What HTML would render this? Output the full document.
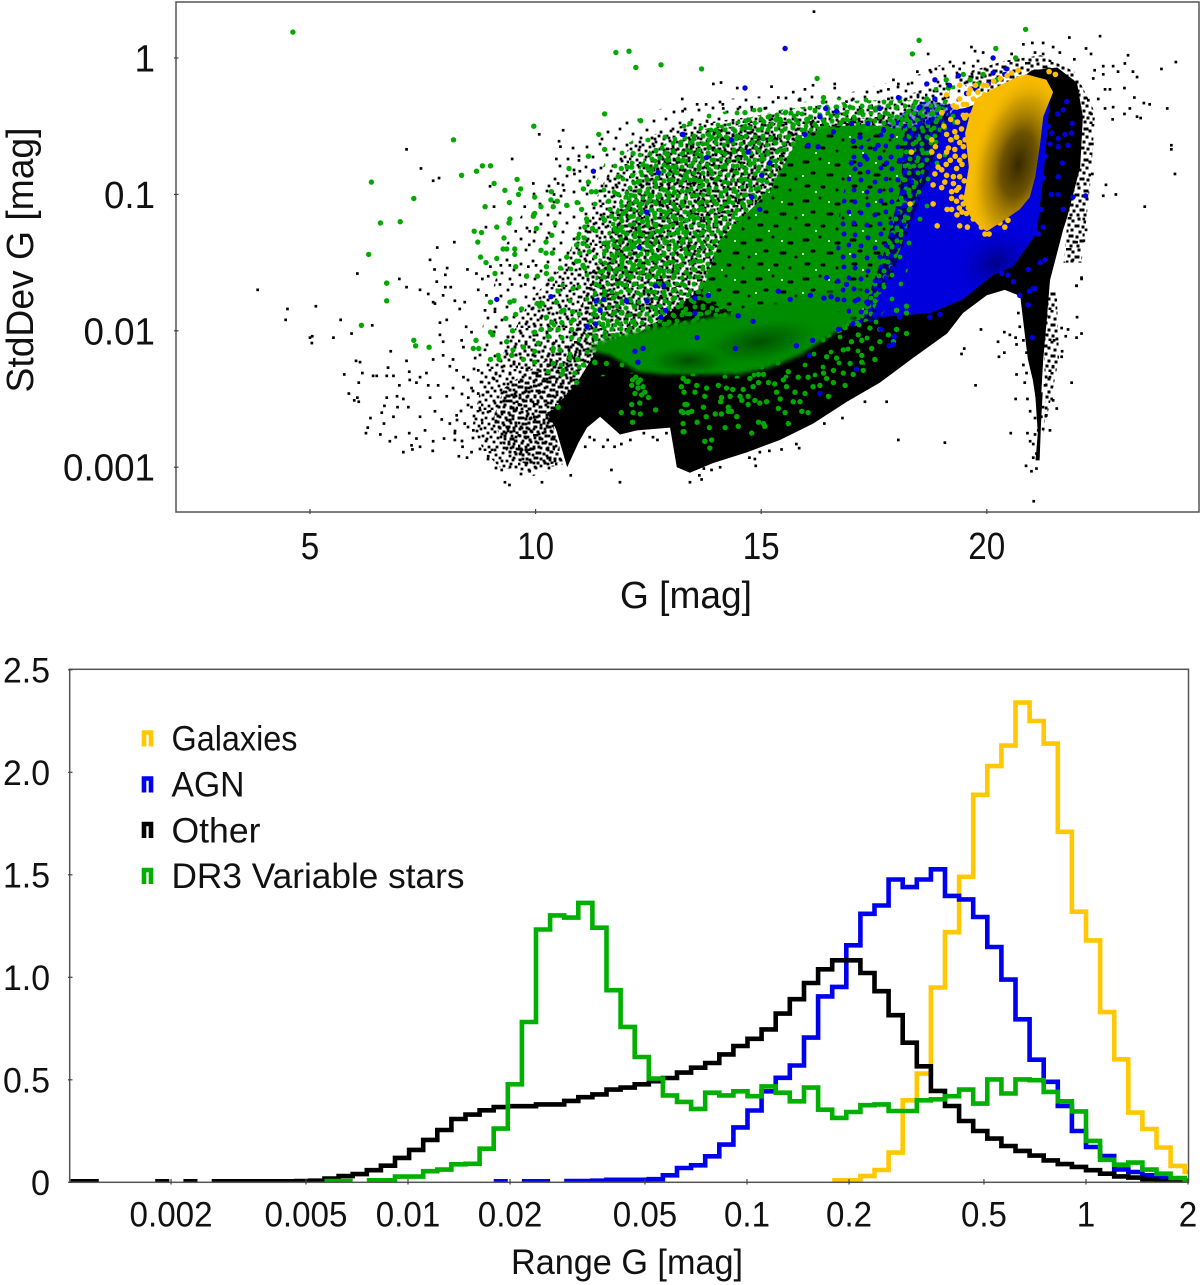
<!DOCTYPE html>
<html lang="en">
<head>
<meta charset="utf-8">
<title>StdDev G vs G and Range G histogram</title>
<style>
html,body{margin:0;padding:0;background:#fff;}
svg{display:block;}
text{font-family:"Liberation Sans","DejaVu Sans",sans-serif;fill:#111;}
</style>
</head>
<body>
<svg id="chart" xmlns="http://www.w3.org/2000/svg" width="1200" height="1285" viewBox="0 0 1200 1285">
  <defs>
    <clipPath id="clip-top"><rect x="176" y="2" width="1023" height="510"/></clipPath>
    <clipPath id="clip-bottom"><rect x="69.7" y="669" width="1119" height="513.5"/></clipPath>
    <pattern id="tile-black-a" width="37" height="41" patternUnits="userSpaceOnUse">
      <path fill="none" stroke="#000" stroke-width="2.8" stroke-linecap="square" d="M2 3h.01M9 1h.01M15 4h.01M22 2h.01M29 5h.01M34 1h.01M5 8h.01M12 9h.01M19 7h.01M26 10h.01M32 9h.01M1 13h.01M8 14h.01M16 12h.01M23 15h.01M30 13h.01M35 16h.01M4 18h.01M11 19h.01M18 17h.01M27 19h.01M33 21h.01M7 23h.01M14 22h.01M21 24h.01M25 23h.01M31 26h.01M2 26h.01M10 27h.01M17 28h.01M24 29h.01M35 27h.01M5 31h.01M13 32h.01M20 33h.01M28 32h.01M33 34h.01M1 36h.01M8 37h.01M16 37h.01M23 38h.01M30 38h.01M36 39h.01M11 40h.01M4 40h.01"/>
    </pattern>
    <pattern id="tile-black-b" width="41" height="31" patternUnits="userSpaceOnUse">
      <path fill="none" stroke="#000" stroke-width="3" stroke-linecap="square" d="M1 1h3M7 4h.01M13 2h.01M19 5h2M27 1h.01M33 3h.01M38 6h.01M3 8h.01M10 9h2M17 10h.01M24 7h.01M30 9h.01M36 11h.01M1 14h.01M6 13h.01M14 15h.01M21 13h.01M27 15h2M34 16h.01M39 15h.01M4 19h2M11 20h.01M18 18h.01M24 20h.01M31 21h.01M37 20h.01M2 24h.01M8 25h.01M15 24h2M22 25h.01M28 26h.01M35 25h.01M5 29h.01M12 29h.01M19 29h.01M25 30h.01M32 29h2M39 28h.01"/>
    </pattern>
    <pattern id="tile-black-c" width="53" height="47" patternUnits="userSpaceOnUse">
      <path fill="none" stroke="#000" stroke-width="2.7" stroke-linecap="square" d="M4 6h.01M17 3h.01M31 8h.01M44 4h.01M10 16h.01M24 14h.01M38 18h.01M49 15h.01M3 26h.01M18 27h.01M30 25h.01M44 29h.01M11 36h.01M25 38h.01M37 35h.01M50 40h.01M5 44h.01M19 45h.01M33 44h.01"/>
    </pattern>
    <pattern id="tile-green" width="43" height="37" patternUnits="userSpaceOnUse">
      <path fill="none" stroke="#00a400" stroke-width="5" stroke-linecap="round" d="M3 4h.01M11 2h.01M20 5h.01M28 3h.01M37 6h.01M7 11h.01M15 10h.01M24 12h.01M33 11h.01M41 13h.01M2 18h.01M11 18h.01M19 17h.01M28 19h.01M37 19h.01M6 25h.01M15 25h.01M24 26h.01M32 25h.01M40 27h.01M2 32h.01M10 33h.01M19 33h.01M28 32h.01M36 34h.01"/>
    </pattern>
    <pattern id="tile-green-shifted" width="47" height="41" patternUnits="userSpaceOnUse">
      <path fill="none" stroke="#009c00" stroke-width="5" stroke-linecap="round" d="M6 7h.01M17 3h.01M30 8h.01M41 5h.01M11 16h.01M23 19h.01M36 15h.01M45 21h.01M4 25h.01M16 29h.01M29 27h.01M39 31h.01M9 37h.01M24 38h.01M44 38h.01"/>
    </pattern>
    <pattern id="tile-green-sparse" width="61" height="53" patternUnits="userSpaceOnUse">
      <path fill="none" stroke="#00a800" stroke-width="4.8" stroke-linecap="round" d="M5 7h.01M22 4h.01M38 10h.01M54 6h.01M13 20h.01M30 22h.01M47 19h.01M4 33h.01M21 36h.01M38 34h.01M55 31h.01M12 47h.01M30 49h.01M46 45h.01"/>
    </pattern>
    <pattern id="tile-green-dense" width="47" height="39" patternUnits="userSpaceOnUse">
      <rect width="47" height="39" fill="#009400"/>
      <path fill="none" stroke="#000" stroke-width="3" stroke-linecap="round" d="M5 6h4M21 3h.01M37 9h3M13 17h2M29 19h4M44 23h.01M7 30h3M23 31h2M38 34h.01"/>
      <path fill="none" stroke="#fff" stroke-width="2" stroke-linecap="round" d="M30 7h.01M4 20h.01M17 36h.01"/>
    </pattern>
    <pattern id="tile-blue" width="31" height="29" patternUnits="userSpaceOnUse">
      <rect width="31" height="29" fill="#0000d8" fill-opacity=".45"/>
      <path fill="none" stroke="#0000e0" stroke-width="5" stroke-linecap="round" d="M3 3h.01M12 5h.01M22 2h.01M29 7h.01M7 12h.01M17 11h.01M25 15h.01M2 19h.01M12 20h.01M20 21h.01M29 23h.01M7 26h.01M17 27h.01"/>
    </pattern>
    <pattern id="tile-blue-dots" width="37" height="33" patternUnits="userSpaceOnUse">
      <path fill="none" stroke="#0000e0" stroke-width="5" stroke-linecap="round" d="M4 4h.01M17 7h.01M30 3h.01M10 15h.01M24 17h.01M35 14h.01M3 25h.01M16 27h.01M29 26h.01"/>
    </pattern>
    <radialGradient id="core-yellow-fill">
      <stop offset="0" stop-color="#2c2100" stop-opacity=".95"/>
      <stop offset=".35" stop-color="#4a3800" stop-opacity=".8"/>
      <stop offset=".7" stop-color="#8a6a00" stop-opacity=".4"/>
      <stop offset="1" stop-color="#ffc000" stop-opacity="0"/>
    </radialGradient>
    <radialGradient id="core-green-fill">
      <stop offset="0" stop-color="#004c00" stop-opacity=".95"/>
      <stop offset=".55" stop-color="#006a00" stop-opacity=".6"/>
      <stop offset="1" stop-color="#009000" stop-opacity="0"/>
    </radialGradient>
    <radialGradient id="core-blue-fill">
      <stop offset="0" stop-color="#000078" stop-opacity=".85"/>
      <stop offset="1" stop-color="#0000e0" stop-opacity="0"/>
    </radialGradient>
    <filter id="soft-edge" x="-5%" y="-10%" width="110%" height="120%"><feGaussianBlur stdDeviation="2.2"/></filter>
  </defs>

  <g id="scatter-panel">
    <g id="scatter-marks" clip-path="url(#clip-top)"></g>
    <rect x="176" y="2" width="1023" height="510" fill="none" stroke="#555" stroke-width="1.5"/>
    <g id="scatter-axes"></g>
    <text x="686" y="608" font-size="38" text-anchor="middle" textLength="132" lengthAdjust="spacingAndGlyphs">G [mag]</text>
    <text transform="translate(33,260) rotate(-90)" font-size="38" text-anchor="middle" textLength="265" lengthAdjust="spacingAndGlyphs">StdDev G [mag]</text>
  </g>

  <g id="hist-panel">
    <g id="hist-marks" clip-path="url(#clip-bottom)"></g>
    <rect x="69.7" y="669.3" width="1118.8" height="513" fill="none" stroke="#555" stroke-width="1.5"/>
    <g id="hist-axes"></g>
    <text x="627" y="1274" font-size="35" text-anchor="middle" textLength="232" lengthAdjust="spacingAndGlyphs">Range G [mag]</text>
    <g>
      <g>
        <path d="M144 746.5V732.5H151V746.5" fill="none" stroke="#ffc800" stroke-width="4.6"/>
        <text x="171.5" y="750.5" font-size="35" textLength="126" lengthAdjust="spacingAndGlyphs">Galaxies</text>
      </g>
      <g>
        <path d="M144 792.5V778.5H151V792.5" fill="none" stroke="#0000f0" stroke-width="4.6"/>
        <text x="171.5" y="796.5" font-size="35" textLength="73" lengthAdjust="spacingAndGlyphs">AGN</text>
      </g>
      <g>
        <path d="M144 838V824H151V838" fill="none" stroke="#000" stroke-width="4.6"/>
        <text x="171.5" y="842.5" font-size="35" textLength="89" lengthAdjust="spacingAndGlyphs">Other</text>
      </g>
      <g>
        <path d="M144 884V870H151V884" fill="none" stroke="#00b000" stroke-width="4.6"/>
        <text x="171.5" y="888" font-size="35" textLength="293" lengthAdjust="spacingAndGlyphs">DR3 Variable stars</text>
      </g>
    </g>
  </g>
</svg>
<script>
/* ---------- Histogram data: values per logarithmic Range G bin ---------- */
const binWidthDex = 0.0416;
const galaxiesFirstBin = -18;
const galaxiesHist = [.01,.01,.03,.06,.145,.40,.53,.95,1.22,1.49,1.89,2.03,2.13,2.34,2.25,2.14,1.71,1.32,1.18,.83,.60,.34,.26,.17,.08,.05];
const agnFirstBin = -42;
const agnHist = [.005,null,.005,.005,null,.006,.006,.008,.012,.012,.012,.015,.034,.07,.083,.127,.184,.268,.35,.444,.51,.57,.706,.907,.953,1.156,1.31,1.35,1.477,1.44,1.477,1.527,1.397,1.38,1.294,1.148,.989,.795,.598,.49,.372,.25,.172,.128,.063,.05,.034,.02,.01,.005];
const otherFirstBin = -72;
const otherHist = [.005,.005,null,null,null,null,.005,null,.005,null,.005,.005,.005,.005,.005,.005,.006,.008,.018,.03,.04,.059,.081,.119,.158,.207,.255,.309,.33,.351,.367,.371,.371,.38,.38,.397,.415,.429,.452,.462,.478,.493,.509,.535,.559,.582,.624,.665,.70,.746,.823,.893,.972,1.039,1.083,1.083,1.021,.932,.815,.681,.566,.446,.372,.299,.25,.213,.177,.153,.13,.107,.089,.075,.059,.042,.029,.023,.015,.007,.003];
const variableFirstBin = -54;
const variableHist = [.006,.006,null,.01,.01,.028,.028,.054,.062,.088,.09,.164,.262,.478,.782,1.233,1.302,1.291,1.363,1.242,.937,.758,.611,.506,.424,.392,.358,.437,.424,.444,.42,.468,.437,.395,.462,.354,.314,.343,.376,.38,.348,.348,.40,.405,.42,.452,.384,.502,.433,.502,.498,.441,.395,.346,.202,.11,.086,.096,.062,.042,.021,.01];

const rangeTicks = [0.002,0.005,0.01,0.02,0.05,0.1,0.2,0.5,1,2];
const rangeTickLabels = ["0.002","0.005","0.01","0.02","0.05","0.1","0.2","0.5","1","2"];
const densityTicks = [0,0.5,1,1.5,2,2.5];
const densityTickLabels = ["0","0.5","1.0","1.5","2.0","2.5"];

/* ---------- Scatter axis ticks ---------- */
const magTicks = [5,10,15,20];
const magTickLabels = ["5","10","15","20"];
const stdTicks = [0,-1,-2,-3];
const stdTickLabels = ["1","0.1","0.01","0.001"];

/* ---------- Scatter density outlines, [G mag, log10 StdDev G] ---------- */
const otherCoreOutline = [[10.25,-2.6],[10.45,-2.72],[10.7,-3],[10.95,-2.82],[11.14,-2.71],[11.43,-2.63],[11.87,-2.76],[12.25,-2.73],[12.98,-2.71],[13.13,-3],[13.42,-3.04],[13.93,-2.97],[14.69,-2.89],[15.42,-2.8],[16.15,-2.68],[16.9,-2.52],[17.63,-2.38],[18.36,-2.2],[19.12,-2.02],[19.47,-1.87],[20,-1.74],[20.4,-1.7],[20.74,-1.745],[20.85,-2.05],[20.91,-2.21],[21.02,-2.36],[21.09,-2.51],[21.2,-2.51],[21.25,-2.21],[21.33,-1.92],[21.4,-1.63],[21.69,-1.26],[21.78,-1.17],[22.07,-.8],[22.13,-.43],[22,-.18],[21.56,-.07],[21,-.09],[20.55,-.2],[20.07,-.3],[19.25,-.4],[18.36,-.5],[17.63,-.55],[16.75,-.62],[15.86,-.89],[14.75,-1.26],[13.64,-1.7],[12.75,-1.92],[11.87,-2.1],[11.36,-2.14],[10.92,-2.38],[10.39,-2.58]];
const otherSpikeOutline = [[21.07,-2.45],[21.13,-2.75],[21.08,-2.95],[21.17,-2.95],[21.2,-2.7],[21.24,-2.45]];
const otherSparseOutline = [[8.8,-2.0],[9.3,-1.4],[10,-.95],[10.9,-.65],[12,-.45],[13.2,-.33],[15,-.28],[17,-.25],[18.5,-.12],[19.3,0],[20,0],[19.2,-.5],[12,-1.5],[10.8,-2.3],[9.5,-2.3]];
const otherSpeckleOutline = [[9.28,-2.16],[9.88,-1.77],[10.54,-1.55],[11.14,-1.17],[11.65,-.82],[12.25,-.6],[13.2,-.5],[14.53,-.44],[15.64,-.4],[16.52,-.4],[17.63,-.345],[19.18,-.16],[19.18,-1.04],[15.86,-1.77],[11.87,-2.14],[11.2,-2.36],[10.25,-2.43]];
const otherSpeckleInner = [[10.6,-2.3],[11.2,-1.6],[11.9,-1.1],[12.6,-.75],[13.5,-.55],[15,-.47],[16.5,-.46],[18,-.42],[19.18,-.3],[19.18,-1.04],[15.86,-1.77],[11.87,-2.14]];
const otherCloudOuter = [[8.1,-2.75],[8.4,-2.3],[9,-2.0],[9.9,-1.85],[10.6,-1.7],[11.2,-2.0],[11,-2.4],[10.5,-2.6],[10.55,-3],[9.8,-3.08],[9,-3.02]];
const otherCloudMid = [[8.6,-2.7],[8.85,-2.32],[9.4,-2.12],[10.2,-2.02],[11,-2.1],[10.9,-2.5],[10.4,-2.7],[10.6,-2.98],[10.3,-3],[9.8,-3.04],[9.2,-3],[8.85,-2.88]];
const otherCloudInner = [[9.05,-2.65],[9.3,-2.42],[9.8,-2.3],[10.3,-2.2],[11,-2.25],[10.9,-2.5],[10.4,-2.7],[10.6,-2.96],[10.3,-2.98],[9.8,-2.98],[9.4,-2.92]];
const otherFringeUpper = [[19.2,-.14],[20.4,-.02],[21.2,.02],[21.95,-.1],[22.4,-.4],[22.3,-.9],[22.1,-1.5],[21.7,-1.5],[21.9,-.8],[21.5,-.2],[20,-.3]];
const otherTrailOutline = [[20.8,-1.8],[21.55,-1.7],[21.6,-2.2],[21.42,-2.5],[21.25,-2.75],[21.3,-2.5],[21.25,-2.0],[20.95,-2.0]];
const agnCoreOutline = [[19.25,-.38],[20.07,-.34],[20.96,-.16],[21.4,-.24],[21.36,-.45],[21.27,-.82],[21.11,-1.28],[20.58,-1.53],[20.14,-1.59],[19.47,-1.77],[18.74,-1.87],[17.63,-1.9],[17.41,-1.8],[17.85,-1.64],[18.36,-1.17],[18.74,-.82],[18.96,-.55]];
const agnFringeOutline = [[16.5,-1.85],[16.6,-1.3],[16.9,-.75],[17.6,-.5],[18.6,-.32],[19.3,-.34],[18.4,-1.2],[18,-1.65],[17.6,-1.92],[17.1,-1.95]];
const agnOverlayOutline = [[16.6,-1.85],[16.7,-1.2],[17,-.7],[17.7,-.5],[18.5,-.5],[18.3,-1.2],[17.9,-1.7],[17.5,-1.95]];
const variableSparseOutline = [[10.2,-2.2],[10.6,-1.6],[11,-1.15],[11.6,-.72],[12.4,-.55],[13.5,-.42],[15,-.36],[16.5,-.3],[18,-.24],[19.3,-.2],[19.4,-.5],[18.6,-1.2],[17.9,-1.9],[17.2,-2.3],[16,-2.35],[14,-2.35],[12.5,-2.3],[11,-2.35]];
const variableOuterOutline = [[11.1,-2.06],[11.4,-1.47],[11.87,-1.04],[12.54,-.67],[13.64,-.53],[15.42,-.38],[17.19,-.31],[18.74,-.31],[19.18,-.38],[18.63,-.82],[18.07,-1.41],[17.41,-1.92],[15.86,-2.14],[13.64,-2.29],[12.32,-2.29]];
const variableInnerOutline = [[13.64,-1.77],[14.09,-1.33],[15.2,-.97],[15.86,-.565],[16.6,-.5],[17.41,-.49],[18.19,-.53],[18.08,-.97],[17.74,-1.41],[17.19,-1.92],[15.42,-1.99]];
const variableBandOutline = [[11.14,-2.14],[11.6,-2.05],[12.6,-1.98],[14.2,-1.88],[15.86,-1.75],[17.19,-1.68],[17.41,-1.8],[16.75,-1.99],[15.86,-2.18],[15.2,-2.27],[14.53,-2.32],[12.8,-2.32],[12.25,-2.3],[11.65,-2.18]];
const galaxiesCoreOutline = [[20.88,-.12],[21.32,-.16],[21.47,-.25],[21.25,-.43],[21.18,-.63],[21.07,-.87],[20.95,-1.02],[20.73,-1.11],[20.29,-1.21],[20,-1.27],[19.85,-1.24],[19.63,-1.16],[19.48,-1.04],[19.6,-.8],[19.52,-.55],[19.62,-.42],[19.75,-.3],[20.29,-.2],[20.66,-.14]];

/* ---------- Dense-core shading: [G centre, log10 StdDev centre, G half-width, log half-height, tilt deg] ---------- */
const galaxiesShade = [20.7,-.78,1.05,.68,12];
const variableShadeA = [14.97,-2.08,1.5,.17,-10];
const variableShadeB = [13.4,-2.22,1.0,.12,0];
const agnShade = [20.2,-1.5,1.1,.28,-25];

/* ---------- Individually readable points, [G mag, log10 StdDev G] ---------- */
const otherPoints = [[7.14,-.67],[7.46,-.81],[9.48,-.74],[7.86,-.88],[7.73,-.9],[8.99,-.94],[10.08,-.56],[10.61,-.53],[10.52,-.61],[10.55,-.65],[10.83,-.66],[10.46,-.74],[10.96,-.75],[10.86,-.85],[10.98,-.83],[9.95,-.92],[10.5,-.92],[10.63,-.97],[10.41,-1],[9.76,-1.09],[9.08,-1.09],[9.56,-1.27],[9.87,-1.27],[8.9,-1.24],[8.2,-1.35],[7.82,-1.39],[7.66,-1.48],[6.05,-1.58],[6.98,-1.62],[7.14,-1.68],[7.44,-1.7],[7.76,-1.55],[8.04,-1.54],[8,-1.59],[7.81,-1.64],[8,-1.68],[8.12,-1.68],[8.49,-1.55],[8.69,-1.58],[8.82,-1.62],[8.95,-1.6],[9,-1.53],[9.23,-1.52],[9.43,-1.52],[9.86,-1.37],[10.01,-1.52],[9.84,-1.53],[9.65,-1.59],[9.48,-1.66],[9.21,-1.66],[9.77,-1.66],[3.84,-1.7],
[4.5,-1.84],[4.46,-1.92],[5.13,-1.82],[5.68,-1.92],[5.05,-2.04],[5,-2.05],[5.04,-2.09],[5.52,-2.05],[5.92,-2.02],[6.38,-1.96],[6.79,-2.15],[7.14,-2.22],[6.02,-2.22],[6.11,-2.23],[6.73,-2.27],[5.76,-2.32],[6.16,-2.31],[6.4,-2.33],[6.48,-2.33],[6.7,-2.33],[6.85,-2.33],[6.08,-2.38],[5.86,-2.46],[5.98,-2.51],[6.08,-2.52],[6.05,-2.49],[6.98,-2.4],[7.21,-2.36],[7.2,-2.3],[6.7,-2.49],[6.93,-2.48],[7.07,-2.5],[7.18,-2.56],[6.94,-2.56],[6.65,-2.55],[6.59,-2.6],[6.34,-2.64],[6.85,-2.63],[6.64,-2.68],[6.28,-2.71],[6.24,-2.75],[6.56,-2.76],[6.9,-2.78],[6.77,-2.81],[7.2,-2.75],[7.36,-2.79],[7.55,-2.73],[7.73,-2.81],[7.25,-2.84],[7.07,-2.89],[7.27,-2.87],[7.44,-2.85],[7.72,-2.88],[7.97,-2.79],[8.21,-2.8],[8.38,-2.85],[8.3,-2.92],[8.48,-2.93],[8.58,-2.89],[8.95,-2.92],[9.32,-3.11],[9.42,-3.13],[10.14,-3.11],[10.78,-3.06],[11.68,-3.02],[11.87,-3.11],[9.87,-3.03],[9.25,-3.02],
[7.36,-2.38],[7.62,-2.4],[7.84,-2.4],[7.44,-2.34],[7.58,-2.31],[7.73,-2.21],[7.95,-2.18],[8.36,-2.07],[7.88,-2.03],[7.95,-2.08],[8.03,-1.92],[7.88,-1.94],[8.46,-1.97],[8.58,-2.01],[8.4,-2.12],[8.17,-2.21],[8.1,-2.26],[8.25,-2.29],[8.4,-2.34],[8.17,-2.42],[7.66,-2.49],[8.03,-2.48],[7.77,-2.59],[7.44,-2.63],[7.92,-2.65],[8.1,-2.68],[8.25,-2.62],[8.43,-2.68],[8.21,-2.75],[8.62,-2.73],[8.77,-2.58],[8.58,-2.56],[8.51,-2.49],[8.73,-2.46],[8.58,-2.42],[8.73,-2.29],[8.66,-2.2],[8.88,-2.14],[7.73,-1.79],[7.62,-1.73],[7.77,-1.8],[7.95,-1.74],[8.21,-1.78],[8.43,-1.79],[8.32,-1.84],[8.73,-1.7],[8.91,-1.74],[8.88,-1.85],[9.1,-1.86],
[16.17,.34],[21.83,.15],[22.51,.16],[23.13,.02],[24.19,-.03],[23.87,-.08],[22.31,.03],[22.2,.07],[21.94,-.01],[21.62,.04],[21.47,.08],[21.25,.11],[21.01,.11],[20.81,.1],[20.55,.03],[21.07,.04],[21.25,.03],[19.66,.08],[19.74,.05],[19.92,.04],[18.7,.03],[13.94,-.19],[14.11,-.18],[14.47,-.22],[15.23,-.21],[15.38,-.29],[15.71,-.25],[15.86,-.3],[15.97,-.23],[16.15,-.2],[16.63,-.19],[16.63,-.22],[17.59,-.25],[17.82,-.23],[17.93,-.16],[18.04,-.19],[18.26,-.19],[18.46,-.1],[18.74,-.09],[18.87,-.08],[19.03,-.08],[19.26,-.06],[19.4,-.08],[19.7,-.06],[19.96,-.08],[20.4,-.08],[22.58,-.06],[22.8,-.06],[23.06,-.04],[22.91,-.1],[23.24,-.1],[23.33,-.14],[22.39,-.09],[22.36,-.15],[22.58,-.12],[22.62,-.23],[22.73,-.23],[23.05,-.22],[23.27,-.29],[23.48,-.33],[23.61,-.34],[23.17,-.37],[23.05,-.41],[22.8,-.36],[22.62,-.37],[22.79,-.45],[23.33,-.43],[23.41,-.44],[24,-.37],[24.09,-.64],[24.09,-.67],[24.17,-.85],[22.34,-.63],[22.34,-.85],[22.64,-.93],[22.86,-1],[22.58,-1.01],[23.5,-1.09],[22.15,-1.18],[22.2,-1.26],[21.99,-1.35],[22.15,-1.34],[21.91,-1.48],[22.1,-1.62],[21.99,-1.67],[22.47,-.3],[22.32,-.41],[22.25,-.31],[13.25,-.3],[13.26,-.39],[13.58,-.34],[13.78,-.34],[14.15,-.34],[14.16,-.37],[14.53,-.36],[14.79,-.36],[15.08,-.37],[15.86,-.31],[16.23,-.36],[16.89,-.32],[17.04,-.3],[17.19,-.36],[17.45,-.35],[17.82,-.3],
[22.1,-1.61],[21.99,-1.67],[22,-1.9],[22.1,-2.02],[21.99,-2.05],[21.8,-1.99],[21.66,-1.98],[21.75,-2.04],[21.49,-2.07],[21.66,-2.19],[21.67,-2.15],[21.88,-2.38],[21.55,-2.57],[21.44,-2.5],[21.47,-2.51],[21.4,-2.73],[21.25,-2.72],[21.32,-2.62],[21.04,-3.25],[20.99,-3.03],[21.1,-3.01],[20.87,-2.99],[21.03,-2.93],[21.14,-2.92],[21.1,-2.9],[20.96,-2.81],[21.03,-2.83],[20.9,-2.75],[21.07,-2.76],[21.14,-2.73],[20.53,-2.75],[20.64,-2.5],[20.9,-2.5],[20.84,-2.38],[20.66,-2.32],[20.27,-2.19],[20.39,-2.16],[20.25,-2.08],[20.66,-2.1],[20.81,-2.07],[20.39,-2.01],[20.51,-2.03],[20.64,-2.05],[19.75,-2.4],[19.87,-1.99],[19.44,-2.17],[19.5,-2.13],[19.07,-2.82],[18.04,-2.8],[17.78,-2.52],[17.3,-2.52],[16.8,-2.64],[16.4,-2.68],[15.84,-2.86],[15.78,-2.83],[15.45,-2.87],[15.18,-2.88],[14.97,-2.89],[14.88,-2.99],[14.86,-2.94],[14.74,-2.93],[14.09,-3],[13.9,-3.02],[13.73,-3.01],[13.63,-3.06],[13.68,-3.09],[13.42,-3.11],[21.47,-2.26],[21.4,-2.34],[21.29,-2.4],[21.14,-2.58],[21.07,-2.64],[21.21,-2.63],[20.96,-2.59],[21.14,-2.54],[21.25,-2.56],[20.88,-2.31],[20.81,-2.25],[20.73,-1.97],[20.7,-1.87],[20.88,-2.16],
[11.3,-2.8],[11.5,-2.85],[11.75,-2.85],[11.9,-2.83],[11.6,-2.8],[12.1,-2.8],[12.4,-2.75],[12.6,-2.78],[11.1,-2.85],[11.2,-2.78],[12.9,-2.75],[12.7,-2.8]];

const variablePoints = [[4.62,.19],[11.78,.04],[12.07,.05],[12.22,-.07],[12.78,-.05],[11.53,-.41],[9.96,-.5],[8.18,-.6],[12.33,-.46],[11.4,-.56],[6.36,-.91],[8.36,-.86],[8.69,-.83],[8.82,-.79],[9,-.79],[9.08,-.92],[9.59,-.89],[9.32,-.97],[9.67,-.96],[9.62,-1],[9.98,-1.02],[10.12,-1.09],[10.35,-.98],[10.34,-1.04],[10.48,-1.05],[10.39,-1.09],[10.69,-1.08],[10.74,-.81],[11.17,-.72],[11.53,-.67],[11.17,-.91],[11.06,-.96],[11.24,-.98],[11.34,-.98],[7.3,-1.03],[8.88,-1.09],[9.42,-1.06],[6.56,-1.21],[7,-1.2],[8.64,-1.27],[8.8,-1.28],[8.72,-1.35],[9.14,-1.24],[9.3,-1.32],[9.43,-1.18],[9.41,-1.21],[10.02,-1.25],[9.95,-1.16],[9.98,-1.14],[10.43,-1.21],[10.36,-1.3],[10.23,-1.35],[9.28,-1.4],[9.36,-1.4],[9.54,-1.4],[9.54,-1.44],[10.12,-1.41],[10.23,-1.43],[10.37,-1.43],[10.69,-1.46],[6.3,-1.44],[8.78,-1.46],[8.9,-1.5],[9.14,-1.47],[9.56,-1.53],[10.24,-1.53],[9.1,-1.58],[9.8,-1.6],[10.04,-1.6],[10.24,-1.58],[10.55,-1.54],[6.7,-1.65],[10.36,-1.62],[10.94,-1.32],[11.08,-1.32],[10.91,-1.37],[11.05,-1.36],[11.19,-1.42],[10.98,-1.43],[11.05,-1.52],[11.09,-1.54],[10.91,-1.49],[11.13,-1.18],[11.09,-1.24],[11.26,-1.25],[11.02,-1.11],[10.92,-1.06],[11.65,-1.11],[11.53,-1.19],[11.76,-1.25],[11.68,-1.16],[11.83,-.87],[11.9,-.81],[12.03,-.8],[12.13,-.8],[12.15,-.86],[12.27,-.91],[12.38,-.78],[12.16,-.7],[11.83,-1],[11.62,-1.05],[12.07,-1.03],[12.24,-1.05],[12.46,-.99],[12.53,-1.04],[12.72,-1.02],[12.94,-.99],[12.92,-.71],[12.94,-.8],[13.09,-.83],[13.34,-.87],[11.94,-1.14],[12.16,-1.16],[12.35,-1.07],[12.64,-1.14],[12.9,-1.14],[13.05,-1.16],[11.87,-1.26],[12.2,-1.31],[12.37,-1.2],[12.64,-1.22],[12.94,-1.24],[13.16,-1.26],[11.98,-1.4],[12.13,-1.37],[12.46,-1.36],[11.76,-1.46],[11.94,-1.47],[12.16,-1.52],[12.38,-1.53],[11.9,-1.54],[12.13,-1.6],[12.72,-1.58],[12.9,-1.51],[13.12,-1.53],[12.57,-1.47],[12.75,-1.46],[13.34,-1.43],[13.27,-.75],[13.27,-1.33],[13.34,-1.19],
[6.7,-1.65],[6.7,-1.78],[6.14,-1.96],[7.3,-2.07],[7.34,-2.11],[7.64,-2.12],[8.62,-2.13],[8.74,-2.13],[9,-2.21],[9.19,-2.21],[9.17,-2.18],[8.68,-2.07],[9,-2.01],[9.05,-2.03],[9.36,-2.08],[9.49,-2],[9.34,-1.91],[9.56,-1.88],[9,-1.79],[9.43,-1.79],[9.52,-1.78],[9.69,-1.84],[10.04,-1.8],[10.09,-1.82],[10.15,-1.8],[10.46,-1.79],[10.5,-1.71],[10.83,-1.69],[10.63,-1.85],[10.82,-1.86],[10.24,-1.9],[10.36,-1.94],[10.58,-1.94],[10.83,-1.92],[9.98,-2.01],[10.13,-1.99],[10.32,-1.99],[10.5,-1.99],[10.8,-1.99],[10.28,-2.04],[10.58,-2.05],[10.8,-2.05],[10.06,-2.09],[9.73,-2.12],[9.98,-2.15],[10.39,-2.13],[10.54,-2.14],[9.5,-2.14],[9.47,-2.18],[9.73,-2.21],[9.98,-2.23],[10.39,-2.24],[10.76,-2.2],[10.94,-2.21],[10.61,-2.29],[10.87,-2.31],[10.28,-2.3],[10.58,-2.32],[10.91,-2.38],[11.06,-2.25],[10.5,-2.56],[11.31,-2.23],[11.57,-2.24],[11.9,-2.6],[12.15,-2.67],[12.13,-2.54],[12.31,-2.53],[12.16,-2.6],[12.32,-2.61],[12.66,-2.58],[12.5,-2.49],[12.13,-2.4],[12.27,-2.42],[12.15,-2.36],[12.22,-2.34],[12.32,-2.36],[12.38,-2.41],[12.2,-2.46],[12.35,-2.47],[12.42,-2.45],[12.27,-2.38],
[13.31,-2.54],[13.23,-2.59],[13.38,-2.6],[13.27,-2.68],[13.27,-2.74],[13.23,-2.41],[13.34,-2.37],[13.27,-2.35],[13.38,-2.37],[13.57,-2.4],[13.29,-2.45],[13.53,-2.45],[13.79,-2.42],[13.75,-2.48],[14.05,-2.4],[14.23,-2.42],[14.37,-2.43],[14.12,-2.49],[14.31,-2.48],[13.35,-2.54],[13.72,-2.56],[13.46,-2.59],[13.27,-2.6],[13.78,-2.63],[13.98,-2.61],[14.12,-2.61],[14.27,-2.59],[14.34,-2.59],[14.27,-2.56],[14.1,-2.52],[14.46,-2.63],[14.57,-2.51],[14.71,-2.48],[14.53,-2.48],[14.6,-2.43],[14.94,-2.38],[14.82,-2.41],[15.16,-2.38],[14.75,-2.35],[14.94,-2.32],[15.05,-2.32],[15.3,-2.39],[14.86,-2.51],[14.97,-2.53],[15.12,-2.52],[14.71,-2.54],[15.34,-2.45],[15.42,-2.5],[15.38,-2.57],[15.53,-2.6],[15.71,-2.52],[15.86,-2.52],[15.97,-2.46],[15.75,-2.45],[15.56,-2.41],[15.49,-2.36],[15.6,-2.3],[15.82,-2.34],[16.04,-2.34],[16.38,-2.31],[16.45,-2.35],[16.3,-2.4],[16.15,-2.41],[16.49,-2.48],[15.9,-2.59],[16.04,-2.6],[16.6,-2.38],[16.86,-2.4],[17.04,-2.32],[16.82,-2.31],[16.6,-2.29],[16.45,-2.19],[16.67,-2.2],[16.82,-2.14],[16.97,-2.24],[17.23,-2.18],[17.23,-2.23],[17.26,-2.29],[17.52,-2.21],[17.45,-2.13],[17.63,-2.08],[17.82,-2.03],[17.93,-2.08],[18,-1.99],[18.22,-2.02],[17.63,-1.99],[17.41,-1.98],[17.23,-2.07],[17,-2.08],[17.15,-2.03],[15.05,-2.68],[14.94,-2.67],[15.08,-2.7],[15.6,-2.68],[14.79,-2.75],[14.49,-2.7],[14.2,-2.71],[13.85,-2.71],[13.29,-2.74],[13.58,-2.67],[13.75,-2.81],[13.9,-2.8],[13.86,-2.86],[18.22,-1.87],[18.22,-1.82],[18,-1.85],
[13.68,-.08],[18.5,.13],[18.35,.03],[20.86,.21],[20.2,.07],[20.64,0],[16.24,-.15],[16.38,-.29],[14.97,-.38],[14.64,-.4],[15.42,-.45],[16.67,-.36],[13.42,-.48],[14.05,-.55],[13.83,-.56],[19.1,-.16],[19.48,-.12],[19.92,-.12],[20.22,-.16],[19.63,-.16],[19.81,-.19],[18.67,-.3],[18.41,-.33],[19.15,-.22],[19.85,-.31],[20.14,-.33],[20.44,-.27],[18.81,-.41],[19.29,-.47],[18.22,-.45],[17.93,-.48],[17.63,-.43],[17.34,-.52],[16.89,-.45],[16.45,-.49],[16.01,-.45],[15.71,-.49],[15.34,-.45]];

const agnPoints = [[21.32,-.38],[21.77,-.32],[21.69,-.38],[21.57,-.41],[21.36,-.5],[21.44,-.55],[21.4,-.63],[21.58,-.59],[21.73,-.56],[21.88,-.55],[21.89,-.48],[21.8,-.64],[21.58,-.65],[21.29,-.72],[21.67,-.77],[21.58,-.87],[21.25,-.88],[21.58,-1],[21.43,-1],[21.91,-1.02],[22.19,-1.01],[21.69,-1.11],[21.21,-1.11],[21.25,-1.24],[21.14,-1.29],[21.18,-1.5],[21.29,-1.48],[20.59,-1.64],[21.03,-1.69],[20.92,-1.55],[20.73,-1.74],[20.92,-1.81],[21.07,-1.69],[20.94,-1.71],[21.01,-2.05],[20.33,-1.58],[20.47,-1.59],
[16.3,-2.46],[17.11,-2.28],[17.84,-2.11],[17.93,-2.1],[17.95,-2.04],[17.65,-1.99],[17.03,-1.95],[16.71,-1.99],[16.07,-2.18],[15.78,-2.11],[16.14,-2.07],[14.43,-2.13],[13.58,-2.05],[14.49,-1.89],[14.82,-1.93],[13.53,-1.76],[13.53,-1.87],[13.83,-1.74],[15.38,-1.71],[15.64,-1.77],[16.09,-1.74],[16.39,-1.76],[16.55,-1.75],[16.69,-1.77],[16.45,-1.61],[16.89,-1.66],[17.15,-1.77],[17.34,-1.79],[17.63,-1.81],[17.74,-1.88],[18.07,-1.9],[18.44,-1.85],[18.74,-1.9],[18.96,-1.88],
[15.53,.07],[14.64,-.22],[18.67,-.19],[18.85,-.16],[19.37,-.13],[20.14,0],[20.14,-.11],[20.44,-.08],[20.4,-.12],[20.03,-.19],[19.17,-.2],[19.74,-.22],[19.55,-.26],[18.04,-.29],[18.85,-.3],[18.52,-.36],[17.63,-.37],[16.43,-.37],[16.67,-.39],[16.3,-.43],[15.97,-.56],[14.34,-.6],[13.27,-.56],[13.79,-.73],[14.71,-.69],[15.19,-.77],[15.01,-.86],[14.79,-1.02],[14.97,-1.11],[16.04,-.64],[16.26,-.65],[16.6,-.54],[17,-.48],[17.37,-.48],[17.71,-.53],[17.04,-.61],[17.19,-.58],[17.59,-.64],[17,-.77],[17.19,-.78],[17.3,-.72],[17.78,-.77],[18.07,-.75],[18.33,-.55],[18.52,-.48],[18.7,-.47],
[9.14,-1.77],[10.34,-1.75],[11.34,-1.78],[11.51,-1.77],[12.01,-1.78],[12.47,-1.78],[12.66,-1.67],[12.84,-1.67],[11.43,-1.85],[12.88,-1.85],[12.78,-1.9],[11.14,-1.97],[11.33,-1.95],[12.2,-2.15],[12.38,-2.13],[12.27,-2.23],[11.28,-.83],[12.72,-.84],[12.46,-1.13],[12.3,-1.39],[13.25,-.56]];

const galaxiesPoints = [[21.38,-.1],[21.52,-.12],[19.11,-.27],[19.63,-.23],[19.92,-.2],[19.26,-.35],[19.33,-.36],[19.48,-.34],[19.55,-.42],[19.51,-.44],[19.66,-.42],[19.11,-.56],[19.29,-.54],[19.33,-.58],[19.15,-.66],[18.78,-.6],[18.86,-.65],[18.78,-.69],[18.33,-.69],[19.11,-.69],[19.29,-.67],[18.95,-.72],[18.92,-.8],[19,-.82],[19.33,-.81],[19.19,-.75],[18.85,-.85],[19.11,-.86],[19.26,-.87],[19.07,-.91],[18.81,-.93],[19.26,-.92],[19.22,-.98],[19.33,-1.05],[19.48,-1.07],[18.3,-1.07],[18.81,-1.07],[19.12,-1.11],[19.22,-1.11],[19.39,-1.1],[19.34,-1.15],[19.55,-1.14],[18.9,-1.23],[19.4,-1.23],[19.57,-1.24],[19.88,-1.24],[19.96,-1.29],[20.05,-1.29],[20.47,-1.19],[20.4,-1.24],[19.48,-.42],[19.44,-.52],[19.48,-.65],[19.4,-.75],[19.4,-.87],[19.33,-.97],[19.44,-1.02],[19.59,-1.1],[19.7,-1.18],[19.85,-1.2],[20.29,-1.21],
[19,-.4],[19.2,-.45],[19.4,-.3],[19.35,-.47],[19.2,-.6],[19.4,-.62],[19.05,-.5],[19.3,-.72],[19.45,-.78],[19.5,-.9],[19.38,-.95],[19.1,-.78],[19,-.95],[19.22,-1.03],[19.45,-1.13],[19.5,-.72],[19.52,-.6],[19.55,-.34],[19.7,-.3],[19.8,-.25],[20,-.2],[20.15,-.17],[20.3,-.15],[20.45,-.13],[20.55,-.11],[20.7,-.09],[19.6,-.26],[19.95,-.27],[20.1,-.25],[19.4,-.2],[19.75,-.2]];

/* ---------- Axis functions ---------- */
const xMag = g => 310 + (g - 5) * 45.12;
const yStd = l => 58 - l * 136.4;
const xRangeLog = l => 1086 + l * 339;
const yDensity = v => 1182.3 - v * 205;

const NS = 'http://www.w3.org/2000/svg';
const scatter = document.getElementById('scatter-marks');
const scatterAxes = document.getElementById('scatter-axes');
const histMarks = document.getElementById('hist-marks');
const histAxes = document.getElementById('hist-axes');

function outline(parent, pts, fill, name, extra) {
  const el = document.createElementNS(NS, 'polygon');
  el.setAttribute('points', pts.map(p => xMag(p[0]).toFixed(1) + ',' + yStd(p[1]).toFixed(1)).join(' '));
  el.setAttribute('fill', fill);
  if (extra) el.setAttribute('filter', extra);
  
  
  parent.appendChild(el);
  return el;
}
function dots(parent, pts, color, size, square, name) {
  const g = document.createElementNS(NS, 'g');
  g.setAttribute('fill', color);
  
  
  pts.forEach(p => {
    const el = document.createElementNS(NS, square ? 'rect' : 'circle');
    if (square) {
      el.setAttribute('x', (xMag(p[0]) - size / 2).toFixed(1));
      el.setAttribute('y', (yStd(p[1]) - size / 2).toFixed(1));
      el.setAttribute('width', size);
      el.setAttribute('height', size);
    } else {
      el.setAttribute('cx', xMag(p[0]).toFixed(1));
      el.setAttribute('cy', yStd(p[1]).toFixed(1));
      el.setAttribute('r', size);
    }
    
    
    g.appendChild(el);
  });
  parent.appendChild(g);
}
function shade(parent, s, fill, name, clipId) {
  const wrap = document.createElementNS(NS, 'g');
  if (clipId) wrap.setAttribute('clip-path', 'url(#' + clipId + ')');
  
  
  const el = document.createElementNS(NS, 'ellipse');
  const cx = xMag(s[0]), cy = yStd(s[1]);
  el.setAttribute('cx', cx.toFixed(1));
  el.setAttribute('cy', cy.toFixed(1));
  el.setAttribute('rx', (xMag(s[0] + s[2]) - cx).toFixed(1));
  el.setAttribute('ry', (yStd(s[1] - s[3]) - cy).toFixed(1));
  el.setAttribute('transform', 'rotate(' + s[4] + ' ' + cx.toFixed(1) + ' ' + cy.toFixed(1) + ')');
  el.setAttribute('fill', fill);
  
  
  wrap.appendChild(el);
  parent.appendChild(wrap);
}
function clipFrom(id, pts) {
  const cp = document.createElementNS(NS, 'clipPath');
  cp.setAttribute('id', id);
  const pg = document.createElementNS(NS, 'polygon');
  pg.setAttribute('points', pts.map(p => xMag(p[0]).toFixed(1) + ',' + yStd(p[1]).toFixed(1)).join(' '));
  cp.appendChild(pg);
  document.querySelector('defs').appendChild(cp);
}
clipFrom('clip-galaxies', galaxiesCoreOutline);
clipFrom('clip-band', variableBandOutline);
clipFrom('clip-agn', agnCoreOutline);

/* Black "Other" population */
dots(scatter, otherPoints, '#000', 2.7, true, 'other-point');
outline(scatter, otherCloudOuter, 'url(#tile-black-c)', 'other-cloud-outer');
outline(scatter, otherCloudMid, 'url(#tile-black-a)', 'other-cloud-mid');
outline(scatter, otherCloudInner, 'url(#tile-black-b)', 'other-cloud-inner');
outline(scatter, otherSparseOutline, 'url(#tile-black-c)', 'other-sparse-region');
outline(scatter, otherSpeckleOutline, 'url(#tile-black-a)', 'other-speckle-region');
outline(scatter, otherSpeckleInner, 'url(#tile-black-b)', 'other-speckle-region-dense');
outline(scatter, otherFringeUpper, 'url(#tile-black-b)', 'other-upper-fringe');
outline(scatter, otherTrailOutline, 'url(#tile-black-b)', 'other-faint-trail');
outline(scatter, otherCoreOutline, '#000', 'other-dense-core');
outline(scatter, otherSpikeOutline, '#000', 'other-faint-spike');

/* Blue AGN population */
outline(scatter, agnFringeOutline, 'url(#tile-blue)', 'agn-fringe-region');
outline(scatter, agnCoreOutline, '#0000dc', 'agn-dense-core');
shade(scatter, agnShade, 'url(#core-blue-fill)', 'agn-core-shading', 'clip-agn');

/* Green variable stars */
outline(scatter, variableSparseOutline, 'url(#tile-green-sparse)', 'variable-sparse-region');
outline(scatter, variableOuterOutline, 'url(#tile-green)', 'variable-outer-region');
outline(scatter, variableOuterOutline, 'url(#tile-green-shifted)', 'variable-outer-region-second-layer');
outline(scatter, variableInnerOutline, 'url(#tile-green-dense)', 'variable-inner-region');
outline(scatter, variableBandOutline, '#008c00', 'variable-dense-band', 'url(#soft-edge)');
shade(scatter, variableShadeA, 'url(#core-green-fill)', 'variable-core-shading-main', 'clip-band');
shade(scatter, variableShadeB, 'url(#core-green-fill)', 'variable-core-shading-left', 'clip-band');
dots(scatter, variablePoints, '#00a800', 2.7, false, 'variable-point');
outline(scatter, agnOverlayOutline, 'url(#tile-blue-dots)', 'agn-overlay-region');
dots(scatter, agnPoints, '#0000e6', 2.7, false, 'agn-point');

/* Yellow galaxies */
dots(scatter, galaxiesPoints, '#ffbf00', 2.8, false, 'galaxy-point');
outline(scatter, galaxiesCoreOutline, '#f8bc00', 'galaxies-dense-core');
shade(scatter, galaxiesShade, 'url(#core-yellow-fill)', 'galaxies-core-shading', 'clip-galaxies');

/* Scatter ticks */
magTicks.forEach((t, i) => {
  const tick = document.createElementNS(NS, 'line');
  tick.setAttribute('x1', xMag(t)); tick.setAttribute('x2', xMag(t));
  tick.setAttribute('y1', 509); tick.setAttribute('y2', 514);
  tick.setAttribute('stroke', '#444'); tick.setAttribute('stroke-width', 1.2);
  
  
  scatterAxes.appendChild(tick);
  const lab = document.createElementNS(NS, 'text');
  lab.setAttribute('x', xMag(t)); lab.setAttribute('y', 559);
  lab.setAttribute('font-size', 38); lab.setAttribute('text-anchor', 'middle');
  lab.setAttribute('textLength', magTickLabels[i].length * 18.5);
  lab.setAttribute('lengthAdjust', 'spacingAndGlyphs');
  lab.textContent = magTickLabels[i];
  
  
  scatterAxes.appendChild(lab);
});
stdTicks.forEach((t, i) => {
  const tick = document.createElementNS(NS, 'line');
  tick.setAttribute('x1', 174); tick.setAttribute('x2', 178.5);
  tick.setAttribute('y1', yStd(t)); tick.setAttribute('y2', yStd(t));
  tick.setAttribute('stroke', '#444'); tick.setAttribute('stroke-width', 1.2);
  
  
  scatterAxes.appendChild(tick);
  const lab = document.createElementNS(NS, 'text');
  const s = stdTickLabels[i];
  lab.setAttribute('x', 155); lab.setAttribute('y', yStd(t) + 13.5);
  lab.setAttribute('font-size', 38); lab.setAttribute('text-anchor', 'end');
  lab.setAttribute('textLength', (s.replace('.', '').length * 20.5 + (s.indexOf('.') >= 0 ? 10 : 0)));
  lab.setAttribute('lengthAdjust', 'spacingAndGlyphs');
  lab.textContent = s;
  
  
  scatterAxes.appendChild(lab);
});

/* Histogram */
function stepPath(values, firstBin) {
  let d = '', pen = false;
  values.forEach((v, i) => {
    if (v === null) { pen = false; return; }
    const x0 = xRangeLog((firstBin + i) * binWidthDex).toFixed(1);
    const x1 = xRangeLog((firstBin + i + 1) * binWidthDex).toFixed(1);
    const y = yDensity(v).toFixed(1);
    d += (pen ? 'L' : 'M') + x0 + ' ' + y + 'L' + x1 + ' ' + y;
    pen = true;
  });
  return d;
}
function histLine(values, firstBin, color, name) {
  const el = document.createElementNS(NS, 'path');
  el.setAttribute('d', stepPath(values, firstBin));
  el.setAttribute('fill', 'none');
  el.setAttribute('stroke', color);
  el.setAttribute('stroke-width', 4.6);
  el.setAttribute('stroke-linejoin', 'miter');
  
  
  histMarks.appendChild(el);
}
histLine(galaxiesHist, galaxiesFirstBin, '#ffc800', 'galaxies-histogram');
histLine(agnHist, agnFirstBin, '#0000f0', 'agn-histogram');
histLine(otherHist, otherFirstBin, '#000', 'other-histogram');
histLine(variableHist, variableFirstBin, '#00b000', 'variable-stars-histogram');

rangeTicks.forEach((t, i) => {
  const x = xRangeLog(Math.log10(t));
  const tick = document.createElementNS(NS, 'line');
  tick.setAttribute('x1', x); tick.setAttribute('x2', x);
  tick.setAttribute('y1', 1179); tick.setAttribute('y2', 1184.5);
  tick.setAttribute('stroke', '#444'); tick.setAttribute('stroke-width', 1.2);
  
  
  histAxes.appendChild(tick);
  const s = rangeTickLabels[i];
  const lab = document.createElementNS(NS, 'text');
  lab.setAttribute('x', x); lab.setAttribute('y', 1226.5);
  lab.setAttribute('font-size', 35); lab.setAttribute('text-anchor', 'middle');
  lab.setAttribute('textLength', (s.replace('.', '').length * 18.5 + (s.indexOf('.') >= 0 ? 9 : 0)));
  lab.setAttribute('lengthAdjust', 'spacingAndGlyphs');
  lab.textContent = s;
  
  
  histAxes.appendChild(lab);
});
densityTicks.forEach((t, i) => {
  const y = yDensity(t);
  const tick = document.createElementNS(NS, 'line');
  tick.setAttribute('x1', 68); tick.setAttribute('x2', 72.5);
  tick.setAttribute('y1', y); tick.setAttribute('y2', y);
  tick.setAttribute('stroke', '#444'); tick.setAttribute('stroke-width', 1.2);
  
  
  histAxes.appendChild(tick);
  const s = densityTickLabels[i];
  const lab = document.createElementNS(NS, 'text');
  lab.setAttribute('x', 50); lab.setAttribute('y', y + 12.5);
  lab.setAttribute('font-size', 35); lab.setAttribute('text-anchor', 'end');
  lab.setAttribute('textLength', s.length > 1 ? 47 : 19);
  lab.setAttribute('lengthAdjust', 'spacingAndGlyphs');
  lab.textContent = s;
  
  
  histAxes.appendChild(lab);
});
</script>
</body>
</html>
